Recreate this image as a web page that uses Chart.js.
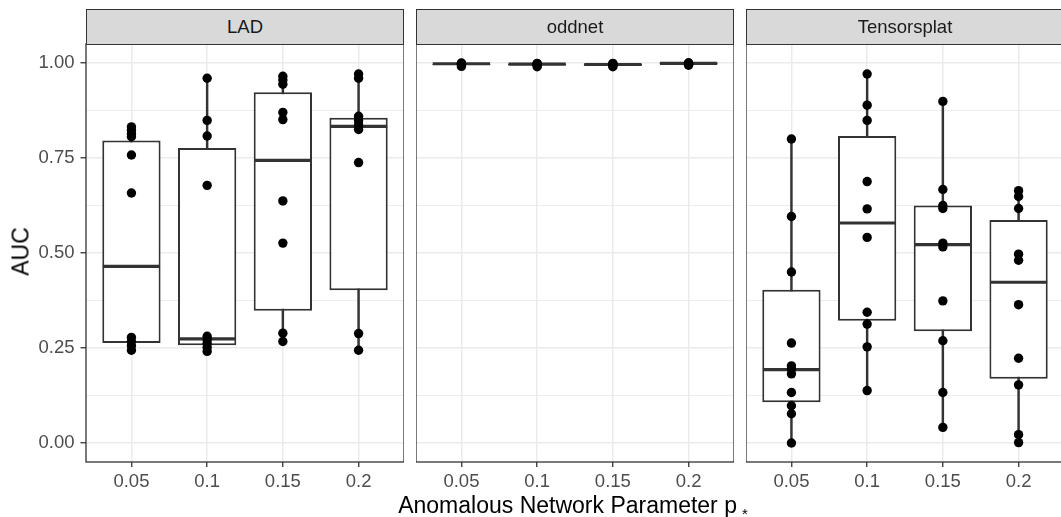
<!DOCTYPE html>
<html>
<head>
<meta charset="utf-8">
<script src="https://cdn.jsdelivr.net/npm/chart.js@4.4.1/dist/chart.umd.min.js"></script>
<style>
  html, body { margin: 0; padding: 0; background: #fff; overflow: hidden; }
  #wrap { position: relative; width: 1061px; height: 517px; overflow: hidden; font-family: "Liberation Sans", Arial, sans-serif; }
  canvas { position: absolute; top: 0; }
  .strip { position: absolute; top: 9px; height: 35.5px; width: 318px; box-sizing: border-box; background: #d9d9d9;
           border: 1.3px solid #333; color: #1a1a1a; font-size: 18.5px; display: flex; align-items: center; justify-content: center; }
  #xtitle { position: absolute; left: 0; width: 1146px; top: 494px; height: 23px; line-height: 23px; font-size: 23px; text-align: center; color: #000; white-space: nowrap; }
  #xtitle span { font-size: 15px; position: relative; top: 6px; margin-left: 5px; }
  #ytitle { position: absolute; left: -29px; top: 239.5px; width: 100px; height: 23px; line-height: 23px; font-size: 23px; text-align: center; color: #000; transform: rotate(-90deg); }
</style>
</head>
<body>
<div id="wrap">
  <canvas id="c0" width="404" height="517" style="left:0px"></canvas>
  <canvas id="c1" width="318" height="517" style="left:416px"></canvas>
  <canvas id="c2" width="318" height="517" style="left:746px"></canvas>
  <div class="strip" style="left:86px">LAD</div>
  <div class="strip" style="left:416px">oddnet</div>
  <div class="strip" style="left:746px">Tensorsplat</div>
  <div id="ytitle">AUC</div>
  <div id="xtitle">Anomalous Network Parameter p<span>*</span></div>
</div>
<script>
const categories = ['0.05', '0.1', '0.15', '0.2'];
const yTicks = [0, 0.25, 0.5, 0.75, 1];
const yTickLabels = ['0.00', '0.25', '0.50', '0.75', '1.00'];
const yMinorTicks = [0.125, 0.375, 0.625, 0.875];

// LAD
const ladQ1 = [0.263, 0.257, 0.348, 0.402];
const ladMedian = [0.465, 0.274, 0.744, 0.833];
const ladQ3 = [0.796, 0.776, 0.923, 0.856];
const ladPoints = [
  [0.832, 0.823, 0.814, 0.806, 0.758, 0.658, 0.278, 0.267, 0.256, 0.244],
  [0.960, 0.849, 0.808, 0.678, 0.281, 0.272, 0.262, 0.251, 0.241],
  [0.965, 0.955, 0.944, 0.870, 0.851, 0.637, 0.526, 0.289, 0.267],
  [0.971, 0.960, 0.860, 0.848, 0.837, 0.825, 0.738, 0.288, 0.244],
];

// oddnet
const oddQ1 = [0.995, 0.994, 0.993, 0.997];
const oddMedian = [0.998, 0.997, 0.996, 0.999];
const oddQ3 = [0.999, 0.998, 0.998, 1.0];
const oddPoints = [
  [1.0, 0.999, 0.998, 0.995, 0.991],
  [0.999, 0.998, 0.997, 0.994, 0.990],
  [0.999, 0.998, 0.996, 0.993, 0.990],
  [1.0, 1.0, 0.999, 0.997, 0.994],
];

// Tensorsplat
const tenQ1 = [0.107, 0.322, 0.294, 0.169];
const tenMedian = [0.193, 0.579, 0.522, 0.423];
const tenQ3 = [0.403, 0.808, 0.625, 0.587];
const tenPoints = [
  [0.800, 0.596, 0.450, 0.263, 0.203, 0.195, 0.182, 0.133, 0.098, 0.077, 0.000],
  [0.971, 0.889, 0.849, 0.688, 0.616, 0.541, 0.344, 0.313, 0.253, 0.138],
  [0.899, 0.667, 0.625, 0.617, 0.526, 0.516, 0.374, 0.269, 0.133, 0.041],
  [0.664, 0.649, 0.617, 0.497, 0.481, 0.364, 0.223, 0.153, 0.022, 0.001],
];

Chart.defaults.font.family = '"Liberation Sans", Arial, sans-serif';

const panelBorder = {
  id: 'panelBorder',
  afterDraw(chart) {
    const { ctx, chartArea: a } = chart;
    ctx.save();
    ctx.strokeStyle = '#333';
    ctx.lineWidth = 1.3;
    ctx.strokeRect(a.left, a.top, a.right - a.left, a.bottom - a.top);
    ctx.restore();
  },
};

const isMajor = (v) => yTicks.some((t) => Math.abs(t - v) < 1e-9);

function makePanel(id, q1, med, q3, pts, showY) {
  const whiskers = pts.map((p, i) => ({ x: i + 1, y: [Math.min(...p), Math.max(...p)] }));
  const boxes = q1.map((v, i) => ({ x: i + 1, y: [v, q3[i]] }));
  const medians = med.map((v, i) => ({ x: i + 1, y: v }));
  const points = pts.flatMap((p, i) => p.map((v) => ({ x: i + 1, y: v })));

  new Chart(document.getElementById(id).getContext('2d'), {
    type: 'bar',
    data: {
      datasets: [
        { type: 'bar', data: whiskers, barThickness: 1.8, backgroundColor: '#333', grouped: false, order: 3 },
        { type: 'bar', data: boxes, backgroundColor: '#fff', borderColor: '#333', borderWidth: 2,
          borderSkipped: false, barPercentage: 0.77, categoryPercentage: 1, grouped: false, order: 2 },
        { type: 'scatter', data: medians, pointStyle: 'line', pointRadius: 28.6, borderColor: '#333', borderWidth: 3.2, order: 1 },
        { type: 'scatter', data: points, pointRadius: 4.7, backgroundColor: '#000', borderWidth: 0, order: 0 },
      ],
    },
    options: {
      responsive: false,
      animation: false,
      layout: { autoPadding: false, padding: { top: 44, left: 0, right: 0, bottom: 0 } },
      plugins: { legend: { display: false }, tooltip: { enabled: false } },
      scales: {
        x: {
          type: 'linear',
          min: 0.4,
          max: 4.6,
          offset: false,
          afterBuildTicks: (s) => { s.ticks = categories.map((c, i) => ({ value: i + 1 })); },
          afterFit: (s) => { s.height = 55; s.paddingLeft = 0; s.paddingRight = 0; },
          ticks: { autoSkip: false, maxRotation: 0, padding: 4, color: '#4d4d4d', font: { size: 18.5 },
                   callback: (v, i) => categories[i] },
          grid: { offset: false, color: '#ebebeb', lineWidth: 1.5, tickColor: '#333', tickLength: 5, tickWidth: 1.3 },
          border: { display: false },
        },
        y: {
          min: -0.05,
          max: 1.05,
          afterBuildTicks: (s) => { s.ticks = [...yTicks, ...yMinorTicks].sort((a, b) => a - b).map((v) => ({ value: v })); },
          afterFit: (s) => { s.width = showY ? 86 : 0; s.paddingTop = 0; s.paddingBottom = 0; },
          ticks: { display: showY, padding: 6, color: '#4d4d4d', font: { size: 18.5 },
                   callback: (v) => { const k = yTicks.findIndex((t) => Math.abs(t - v) < 1e-9); return k >= 0 ? yTickLabels[k] : ''; } },
          grid: {
            color: '#ebebeb',
            lineWidth: (c) => (isMajor(c.tick.value) ? 1.5 : 0.9),
            drawTicks: showY,
            tickColor: (c) => (isMajor(c.tick.value) ? '#333' : 'rgba(0,0,0,0)'),
            tickLength: 5.5,
            tickWidth: 1.3,
          },
          border: { display: false },
        },
      },
    },
    plugins: [panelBorder],
  });
}

makePanel('c0', ladQ1, ladMedian, ladQ3, ladPoints, true);
makePanel('c1', oddQ1, oddMedian, oddQ3, oddPoints, false);
makePanel('c2', tenQ1, tenMedian, tenQ3, tenPoints, false);
</script>
</body>
</html>
